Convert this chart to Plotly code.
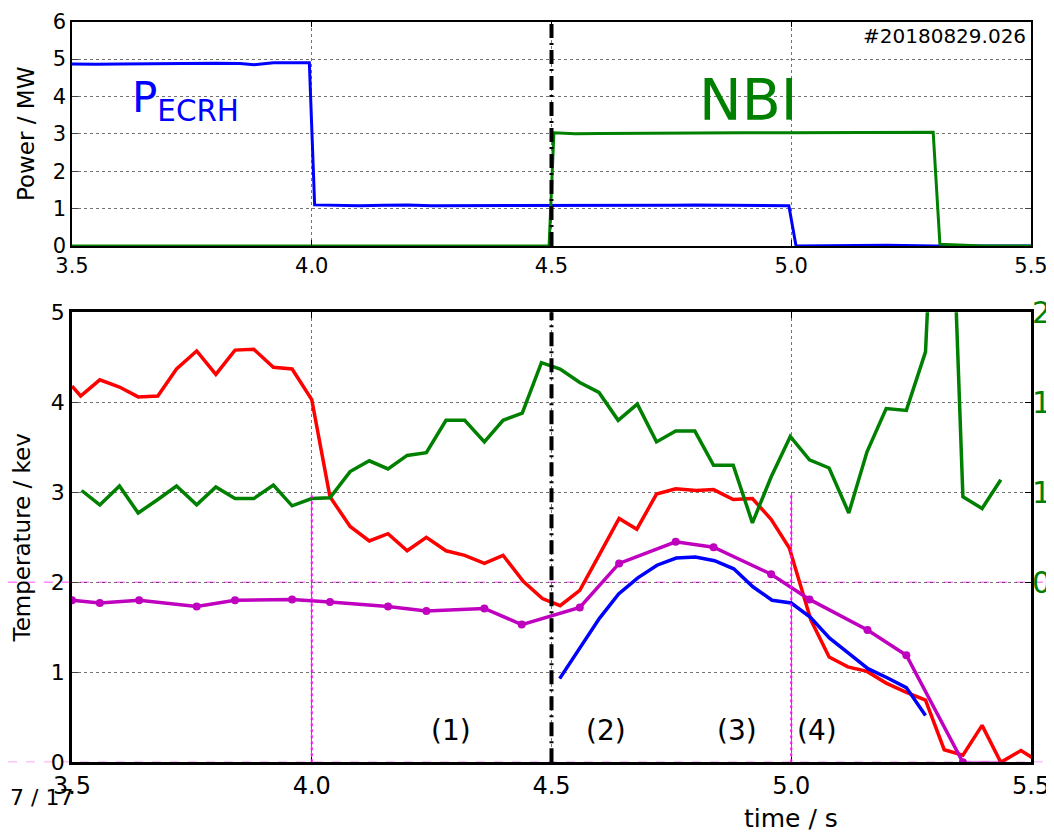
import plotly.graph_objects as go

# ── Top panel: heating power ──────────────────────────────────────────────────
t_ecrh = [3.50, 3.55, 3.60, 3.65, 3.70, 3.75, 3.80, 3.85, 3.88, 3.92, 3.995,
          4.006, 4.05, 4.10, 4.15, 4.20, 4.25, 4.30, 4.40, 4.50, 4.60, 4.70,
          4.75, 4.80, 4.85, 4.90, 4.95, 4.995, 5.01, 5.20, 5.30, 5.40, 5.50]
p_ecrh = [4.87, 4.86, 4.87, 4.88, 4.88, 4.90, 4.89, 4.88, 4.85, 4.90, 4.90,
          1.10, 1.09, 1.08, 1.09, 1.10, 1.08, 1.08, 1.07, 1.08, 1.07, 1.08,
          1.09, 1.10, 1.09, 1.10, 1.09, 1.08, 0.0, 0.02, 0.0, 0.01, 0.0]

t_nbi = [3.50, 4.495, 4.505, 4.55, 4.60, 4.70, 4.80, 4.90, 5.00, 5.10, 5.20,
         5.296, 5.31, 5.35, 5.40, 5.50]
p_nbi = [0.0, 0.0, 3.03, 3.00, 3.01, 3.02, 3.03, 3.03, 3.03, 3.04, 3.04,
         3.04, 0.05, 0.02, 0.0, 0.0]

# ── Bottom panel: temperatures (left axis) ────────────────────────────────────
t_red = [3.50, 3.518, 3.558, 3.599, 3.638, 3.679, 3.718, 3.76, 3.80, 3.84,
         3.879, 3.92, 3.959, 4.00, 4.038, 4.08, 4.12, 4.159, 4.199, 4.239,
         4.28, 4.319, 4.36, 4.399, 4.441, 4.481, 4.518, 4.559, 4.599, 4.641,
         4.678, 4.719, 4.759, 4.802, 4.838, 4.879, 4.919, 4.958, 4.996, 5.041,
         5.079, 5.118, 5.158, 5.198, 5.239, 5.28, 5.319, 5.358, 5.398, 5.437,
         5.479, 5.518]
te_red = [4.18, 4.07, 4.25, 4.17, 4.06, 4.07, 4.37, 4.57, 4.31, 4.58,
          4.59, 4.39, 4.37, 4.03, 2.95, 2.62, 2.46, 2.54, 2.35, 2.50,
          2.35, 2.30, 2.21, 2.30, 2.01, 1.82, 1.74, 1.91, 2.30, 2.71,
          2.59, 2.98, 3.04, 3.02, 3.03, 2.92, 2.93, 2.70, 2.38, 1.58,
          1.17, 1.06, 1.01, 0.88, 0.78, 0.69, 0.14, 0.08, 0.41, 0.0,
          0.13, 0.0]

t_blue = [4.517, 4.56, 4.60, 4.64, 4.68, 4.72, 4.76, 4.80, 4.84, 4.88, 4.92,
          4.96, 5.00, 5.04, 5.08, 5.12, 5.16, 5.20, 5.24, 5.28]
te_blue = [0.93, 1.28, 1.60, 1.87, 2.05, 2.19, 2.27, 2.28, 2.24, 2.15, 1.95,
           1.80, 1.77, 1.61, 1.38, 1.21, 1.04, 0.94, 0.83, 0.52]

t_mag = [3.50, 3.558, 3.64, 3.76, 3.84, 3.959, 4.038, 4.159, 4.239, 4.36,
         4.438, 4.559, 4.641, 4.759, 4.838, 4.958, 5.038, 5.159, 5.24, 5.358]
te_mag = [1.80, 1.77, 1.80, 1.73, 1.80, 1.81, 1.78, 1.73, 1.68, 1.71,
          1.53, 1.72, 2.21, 2.45, 2.39, 2.09, 1.81, 1.47, 1.19, 0.0]
t_mag_tail = [5.358, 5.44]
te_mag_tail = [0.0, 0.0]

# ── Bottom panel: green trace (right axis) ────────────────────────────────────
t_green = [3.52, 3.558, 3.599, 3.638, 3.679, 3.718, 3.76, 3.80, 3.84, 3.879,
           3.92, 3.959, 4.00, 4.038, 4.08, 4.12, 4.159, 4.199, 4.239, 4.28,
           4.319, 4.36, 4.399, 4.439, 4.479, 4.518, 4.559, 4.599, 4.639, 4.679,
           4.719, 4.759, 4.799, 4.838, 4.879, 4.919, 4.958, 4.998, 5.038, 5.079,
           5.12, 5.158, 5.198, 5.24, 5.28, 5.318, 5.358, 5.398, 5.437]
v_green = [1.01, 0.93, 1.035, 0.885, 0.96, 1.035, 0.93, 1.03, 0.965, 0.965,
           1.04, 0.925, 0.965, 0.97, 1.115, 1.175, 1.13, 1.205, 1.22, 1.40,
           1.40, 1.28, 1.40, 1.44, 1.72, 1.685, 1.61, 1.555, 1.40, 1.49,
           1.28, 1.34, 1.34, 1.15, 1.15, 0.83, 1.085, 1.31, 1.18, 1.135,
           0.885, 1.225, 1.465, 1.455, 1.78, 3.95, 0.975, 0.91, 1.07]

x_ticks = [3.5, 4.0, 4.5, 5.0, 5.5]
x_labels = ["3.5", "4.0", "4.5", "5.0", "5.5"]
right_ticks = [0.5, 1.0, 1.5, 2.0]
phase_t = [4.29, 4.613, 4.886, 5.054]
phase_labels = ["(1)", "(2)", "(3)", "(4)"]

FONT = "DejaVu Sans, Verdana, sans-serif"
BLUE, GREEN, RED, MAG = "#0000FF", "#008000", "#FF0000", "#BF00BF"
GRID = "rgba(0,0,0,0.55)"

# page body adds an 8 px margin, so the figure is drawn 8 px smaller/shifted
OFF = 8
W, H = 1054 - OFF, 833 - OFF
L_PX, R_PX = 72 - OFF, 1031 - OFF


def ydom(top_px, bot_px):
    return [1 - (bot_px - OFF) / H, 1 - (top_px - OFF) / H]


fig = go.Figure()
fig.add_trace(go.Scatter(x=t_ecrh, y=p_ecrh, mode="lines", xaxis="x", yaxis="y",
                         line=dict(color=BLUE, width=3)))
fig.add_trace(go.Scatter(x=t_nbi, y=p_nbi, mode="lines", xaxis="x", yaxis="y",
                         line=dict(color=GREEN, width=3)))
fig.add_trace(go.Scatter(x=t_green, y=v_green, mode="lines", xaxis="x2", yaxis="y3",
                         line=dict(color=GREEN, width=3.5)))
fig.add_trace(go.Scatter(x=t_red, y=te_red, mode="lines", xaxis="x2", yaxis="y2",
                         line=dict(color=RED, width=3.5)))
fig.add_trace(go.Scatter(x=t_blue, y=te_blue, mode="lines", xaxis="x2", yaxis="y2",
                         line=dict(color=BLUE, width=3.5)))
fig.add_trace(go.Scatter(x=t_mag_tail, y=te_mag_tail, mode="lines", xaxis="x2", yaxis="y2",
                         line=dict(color="rgba(191,0,191,0.45)", width=3)))
fig.add_trace(go.Scatter(x=t_mag, y=te_mag, mode="lines+markers", xaxis="x2", yaxis="y2",
                         line=dict(color=MAG, width=3.5),
                         marker=dict(color=MAG, size=8)))

xcommon = dict(range=[3.5, 5.5], tickvals=x_ticks, ticktext=x_labels,
               showgrid=True, gridcolor=GRID, griddash="dot", gridwidth=1,
               showline=True, linecolor="black", mirror="ticks",
               ticks="inside", ticklen=6, tickcolor="black",
               zeroline=False, automargin=False)

fig.update_layout(
    width=W, height=H,
    template="none",
    paper_bgcolor="white", plot_bgcolor="white",
    showlegend=False,
    font=dict(family=FONT, color="black"),
    margin=dict(l=L_PX, r=W - R_PX, t=0, b=0),
    xaxis=dict(xcommon, anchor="y", domain=[0, 1], linewidth=1.5,
               tickfont=dict(size=21)),
    yaxis=dict(domain=ydom(21.7, 246), range=[0, 6], dtick=1, anchor="x",
               showgrid=True, gridcolor=GRID, griddash="dot",
               showline=True, linecolor="black", linewidth=1.5, mirror="ticks",
               ticks="inside", ticklen=6, zeroline=False, automargin=False,
               tickfont=dict(size=21),
               title=dict(text="Power / MW", font=dict(size=23), standoff=12)),
    xaxis2=dict(xcommon, anchor="y2", domain=[0, 1], linewidth=2.5,
                tickfont=dict(size=24)),
    yaxis2=dict(domain=ydom(312.3, 762.3), range=[0, 5], dtick=1, anchor="x2",
                showgrid=True, gridcolor=GRID, griddash="dot",
                showline=True, linecolor="black", linewidth=2.5, mirror=True,
                ticks="inside", ticklen=6, zeroline=False, automargin=False,
                tickfont=dict(size=22),
                title=dict(text="Temperature / kev", font=dict(size=23), standoff=14)),
    yaxis3=dict(overlaying="y2", side="right", anchor="x2", range=[-0.5, 2.0],
                tickvals=right_ticks, ticktext=[f"{v:.1f}" for v in right_ticks],
                showgrid=False, zeroline=False, showline=False,
                ticks="inside", ticklen=6, tickcolor="black",
                tickfont=dict(size=30, color=GREEN), automargin=False),
)

shapes = []
# phase boundary at 4.5 s, both panels
for xr, yr in (("x", "y domain"), ("x2", "y2 domain")):
    shapes.append(dict(type="line", xref=xr, yref=yr, x0=4.5, x1=4.5, y0=0, y1=1,
                       line=dict(color="black", width=4, dash="14px,5px,2px,5px")))
# magenta helper lines
for tv in (4.0, 5.0):
    shapes.append(dict(type="line", xref="x2", yref="y2", x0=tv, x1=tv, y0=0, y1=3,
                       line=dict(color="#FF00FF", width=2, dash="dot")))
plot_w = R_PX - L_PX
for lv in (2.0, 0.0):
    shapes.append(dict(type="line", xref="paper", yref="y2",
                       x0=-L_PX / plot_w, x1=(W - L_PX) / plot_w,
                       y0=lv, y1=lv, layer="below",
                       line=dict(color="#FF88FF", width=1.5, dash="dash")))
fig.update_layout(shapes=shapes)

ann = [
    dict(x=3.621, y=3.9, xref="x", yref="y", xanchor="left", yanchor="middle",
         text="P<sub>ECRH</sub>", showarrow=False,
         font=dict(size=42, color=BLUE)),
    dict(x=4.803, y=3.9, xref="x", yref="y", xanchor="left", yanchor="middle",
         text="NBI", showarrow=False, font=dict(size=57, color=GREEN)),
    dict(x=5.494, y=6.0, xref="x", yref="y", xanchor="right", yanchor="top",
         text="#20180829.026", showarrow=False, font=dict(size=20)),
    dict(x=(8 - OFF - L_PX) / plot_w, y=1 - (797 - OFF) / H,
         xref="paper", yref="paper", xanchor="left", yanchor="middle",
         text="7 / 17", showarrow=False, font=dict(size=22)),
    dict(x=5.0, y=1 - (818 - OFF) / H, xref="x2", yref="paper",
         xanchor="center", yanchor="middle",
         text="time / s", showarrow=False, font=dict(size=25)),
]
for tp, lab in zip(phase_t, phase_labels):
    ann.append(dict(x=tp, y=0.35, xref="x2", yref="y2", text=lab, showarrow=False,
                    font=dict(size=28)))
fig.update_layout(annotations=ann)

fig.write_html("out.html")
